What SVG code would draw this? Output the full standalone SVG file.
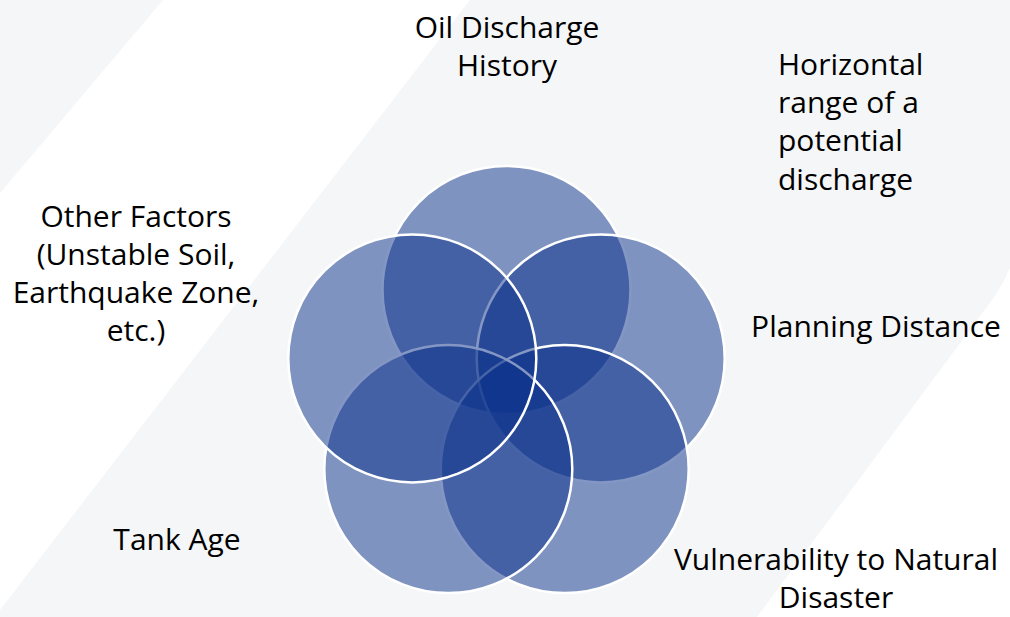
<svg xmlns="http://www.w3.org/2000/svg" width="1010" height="617" viewBox="0 0 1010 617">
  <style>
    .bg { fill: #f5f6f8; }
    .venn { fill: #09308a; fill-opacity: 0.5; stroke: #ffffff; stroke-width: 2.5; }
    .lbl { font-family: "Open Sans", "Noto Sans", "Liberation Sans", sans-serif; font-size: 30px; fill: #000000; }
    .c { text-anchor: middle; }
  </style>
  <rect x="0" y="0" width="1010" height="617" fill="#ffffff"/>
  <g id="background">
    <path class="bg" d="M0,0 L163,0 L0,193 Z"/>
    <path class="bg" d="M470,0 L1010,0 L1010,268 Q1004,282 995,296 L757,617 L0,617 L0,610 Z"/>
  </g>
  <g id="circles">
    <g id="node-oil-discharge-history"><circle class="venn" cx="506.5" cy="290" r="124"/></g>
    <g id="node-planning-distance"><circle class="venn" cx="600.7" cy="358.4" r="124"/></g>
    <g id="node-vulnerability"><circle class="venn" cx="564.7" cy="469.1" r="124"/></g>
    <g id="node-tank-age"><circle class="venn" cx="448.3" cy="469.1" r="124"/></g>
    <g id="node-other-factors"><circle class="venn" cx="412.3" cy="358.4" r="124"/></g>
  </g>
  <g id="connectors"></g>
  <g id="labels">
    <g id="label-oil"><text class="lbl c" x="507" y="38">Oil Discharge</text><text class="lbl c" x="507" y="76">History</text></g>
    <g id="label-horizontal">
      <text class="lbl" x="778" y="75">Horizontal</text>
      <text class="lbl" x="778" y="113">range of a</text>
      <text class="lbl" x="778" y="151">potential</text>
      <text class="lbl" x="778" y="190">discharge</text>
    </g>
    <g id="label-planning"><text class="lbl c" x="876" y="337">Planning Distance</text></g>
    <g id="label-vulnerability"><text class="lbl c" x="836" y="570">Vulnerability to Natural</text><text class="lbl c" x="836" y="608">Disaster</text></g>
    <g id="label-tank"><text class="lbl c" x="177" y="550">Tank Age</text></g>
    <g id="label-other">
      <text class="lbl c" x="136" y="227">Other Factors</text>
      <text class="lbl c" x="136" y="265">(Unstable Soil,</text>
      <text class="lbl c" x="136" y="303">Earthquake Zone,</text>
      <text class="lbl c" x="136" y="341">etc.)</text>
    </g>
  </g>
</svg>
